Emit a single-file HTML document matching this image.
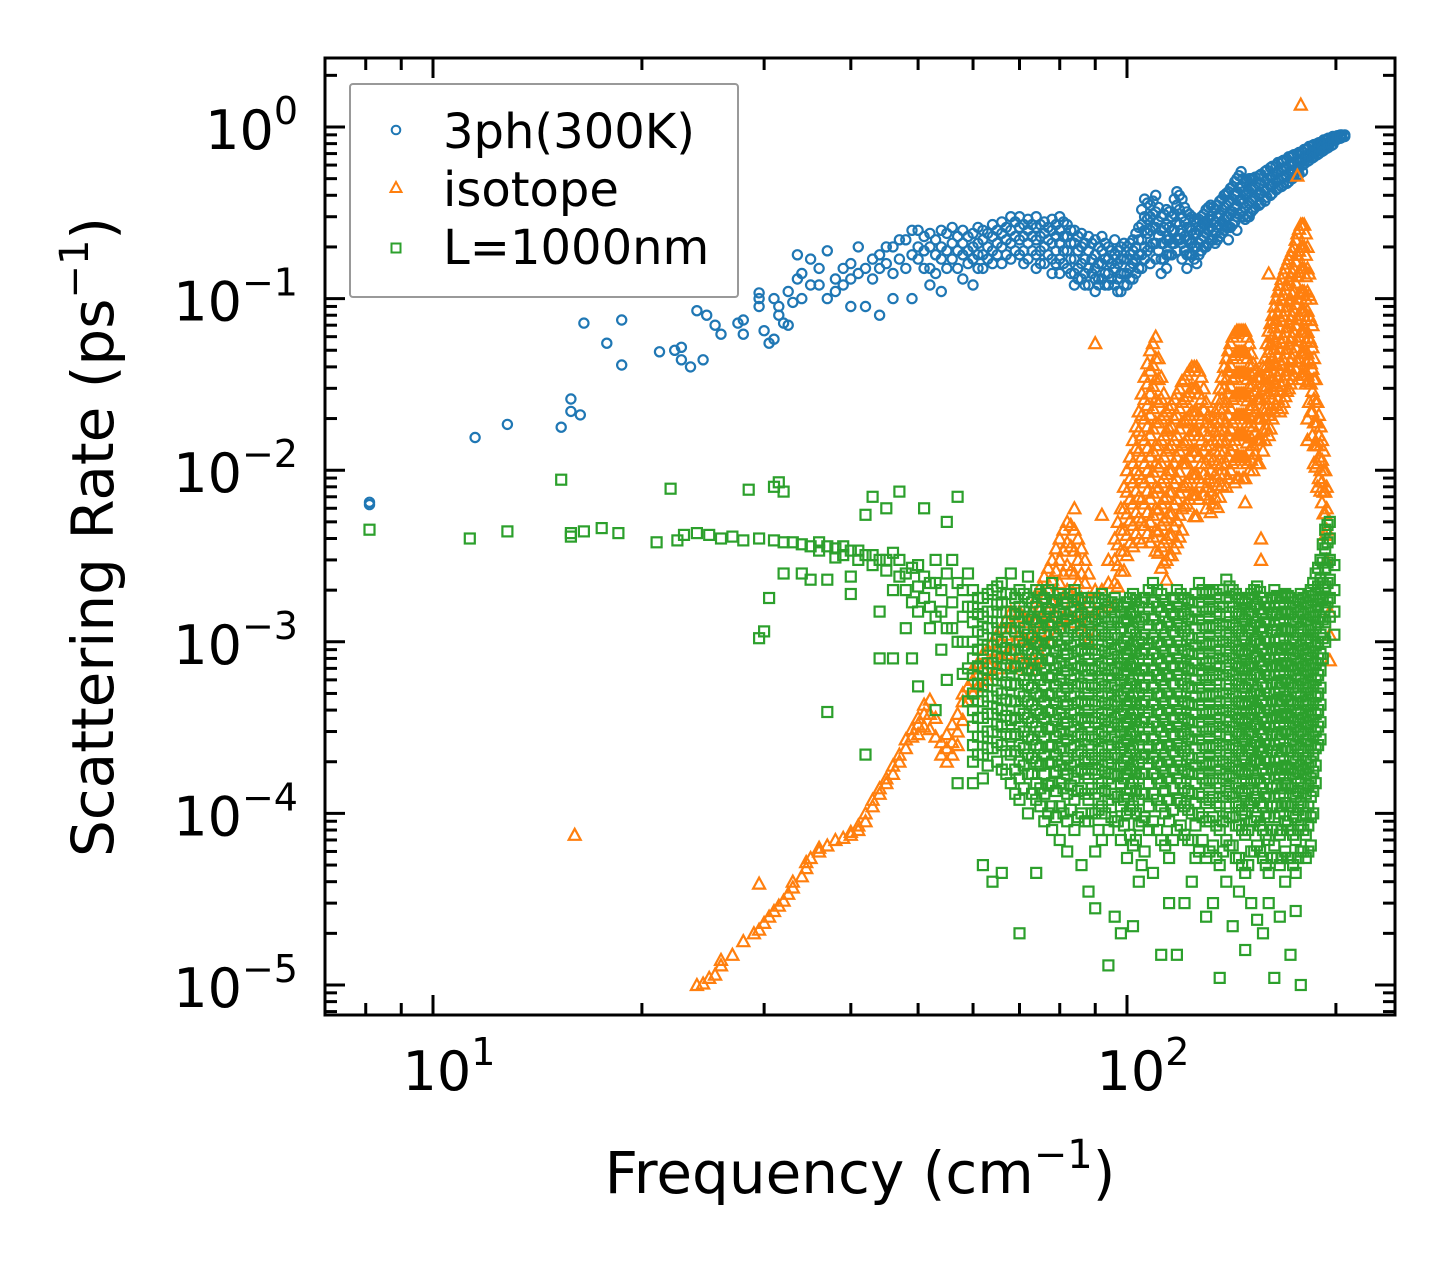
<!DOCTYPE html>
<html><head><meta charset="utf-8"><style>
html,body{margin:0;padding:0;background:#fff;}
svg{display:block;font-family:"DejaVu Sans","Liberation Sans",sans-serif;}
</style></head><body>
<svg id="chart" width="1455" height="1265" viewBox="0 0 1455 1265" xmlns="http://www.w3.org/2000/svg">
<rect width="1455" height="1265" fill="#fff"/>
<g id="marks"></g>
<g id="axes"></g>
<text x="860" y="1193" font-size="58" text-anchor="middle">Frequency (cm<tspan font-size="40" dy="-25">−1</tspan><tspan dy="25">)</tspan></text>
<text transform="translate(113,537) rotate(-90)" font-size="58" text-anchor="middle">Scattering Rate (ps<tspan font-size="40" dy="-25">−1</tspan><tspan dy="25">)</tspan></text>
<g>
<rect x="350" y="84" width="388" height="213" rx="3" fill="#fff" fill-opacity="0.8" stroke="#999" stroke-width="2"/>
<circle cx="396" cy="130" r="4.3" fill="none" stroke="#1f77b4" stroke-width="2"/>
<text x="443" y="148" font-size="48">3ph(300K)</text>
<path d="M396,182 L401.5,192 L390.5,192 Z" fill="none" stroke="#ff7f0e" stroke-width="2"/>
<text x="443" y="206" font-size="48">isotope</text>
<rect x="391.5" y="243.5" width="9" height="9" fill="none" stroke="#2ca02c" stroke-width="2"/>
<text x="443" y="264" font-size="48">L=1000nm</text>
</g>
</svg>
<script>
// Data rows: [frequency (cm^-1), rate1, rate2, ...] (rates in ps^-1)
const blueRows = [
[8.1,6.5e-3,6.3e-3],[11.5,.0155],[12.8,.0185],[15.3,.0178],[15.8,.022,.026],[16.3,.021],[16.5,.072],[17.8,.055],[18.7,.075,.041],
[21.2,.049],[22.3,.05],[22.8,.052,.044],[23.5,.04],[24,.085],[24.5,.044],[24.8,.08],[25.5,.07],[26,.062],[27.5,.072],[28,.075,.062],
[29.5,.1,.108,.09],[30,.065],[30.5,.055],[31,.058,.1],[31.5,.08,.09],[32,.072],[32.5,.07,.11],[33,.095],[33.5,.18,.13],[34,.14,.1],
[35,.17,.12],[36,.12,.15],[37,.19,.1],[38,.13,.11],[39,.15,.12],[40,.16,.13,.09],[41,.2,.14],[42,.09,.15],[43,.17,.13],[44,.18,.15,.08],
[45,.2,.16],[46,.2,.14,.1],[47,.22,.17],[48,.22,.15],[49,.25,.18,.1],[50,.25,.2,.17],[51,.23,.19,.15],[52,.24,.2,.15,.12],[53,.22,.18,.14],[54,.25,.2,.17,.11],
[55,.24,.19,.15],[56,.26,.21,.17],[57,.23,.19,.15],[58,.25,.21,.18,.13],[59,.23,.19,.16],[60,.24,.2,.17,.12],[61,.26,.21,.18,.15],[62,.25,.22,.18,.15],[63,.24,.2,.17],[64,.27,.23,.19,.16],
[65,.25,.21,.18],[66,.28,.24,.2,.16],[67,.26,.22,.18],[68,.3,.25,.21,.17],[69,.28,.23,.19],[70,.3,.26,.22,.18],[71,.27,.23,.19,.16],[72,.29,.25,.21,.17],[73,.27,.23,.19],[74,.3,.26,.22,.18,.15],
[75,.27,.23,.19,.16],[76,.28,.24,.2,.16],[77,.26,.22,.18],[78,.29,.25,.21,.17,.14],[79,.27,.23,.19,.16],
[80,.3,.25,.21,.17,.14],[81,.28,.23,.19,.16],[82,.27,.23,.19,.15],[83,.25,.21,.17,.14],[84,.25,.21,.17,.14,.12],[85,.23,.19,.15,.13],[86,.24,.2,.16,.13],[87,.21,.17,.14,.12],[88,.23,.19,.15,.12],[89,.21,.17,.14],[90,.22,.18,.15,.13,.11],
[91,.2,.16,.13,.12],[92,.23,.19,.16,.13],[93,.21,.17,.14,.12],[94,.2,.17,.14,.12],[95,.19,.16,.13],[96,.22,.18,.15,.12],[97,.19,.16,.13,.11],[98,.2,.17,.14,.11],[99,.21,.17,.14,.12],[100,.2,.17,.14,.12],[101,.21,.18,.15,.13],[102,.22,.19,.16,.13],
[103,.24,.2,.17,.14],[104,.26,.22,.18,.15],[105,.33,.27,.22,.18,.15],[106,.38,.3,.25,.2,.17],[107,.36,.29,.24,.19],[108,.35,.3,.25,.2,.16],[109,.37,.31,.26,.21],[110,.4,.32,.26,.21,.17],[111,.34,.28,.23,.19],[112,.3,.25,.21,.17,.14],
[113,.31,.26,.21,.17],[114,.33,.27,.22,.18,.15],[115,.32,.26,.22,.18],[116,.3,.25,.21,.18],[117,.38,.31,.25,.21],[118,.42,.35,.28,.22,.19],[119,.4,.33,.27,.22],[120,.38,.3,.25,.21,.17],[121,.34,.28,.23,.19],[122,.32,.26,.22,.18,.15],
[123,.31,.26,.22,.18],[124,.3,.25,.21,.18],[125,.29,.24,.2,.17],[126,.28,.24,.2,.16],[127,.29,.25,.21,.18],[128,.3,.26,.22,.19],[129,.31,.27,.23,.2],[130,.33,.28,.24,.2],[131,.34,.29,.25,.21],[132,.35,.3,.26,.22],[133,.34,.29,.25,.22],[134,.33,.28,.24,.21],
[135,.35,.3,.26,.22],[136,.37,.31,.27,.23],[137,.38,.33,.28,.24],[138,.4,.34,.29,.25],[139,.41,.35,.3,.26],[140,.42,.36,.3,.26,.22],[141,.44,.37,.31,.26],[142,.45,.38,.32,.27],[143,.48,.4,.34,.28],[144,.5,.42,.35,.3,.25],[145,.52,.44,.37,.31],[146,.55,.45,.38,.32],
[147,.5,.42,.36,.3],[148,.48,.4,.34,.29],[149,.49,.41,.35,.3],[150,.5,.42,.36,.3],[151,.5,.43,.37,.32],[152,.5,.44,.38,.33],[153,.51,.45,.39,.34],[155,.52,.46,.4,.35],[156,.53,.47,.41,.36],[158,.55,.48,.42,.37],[159,.56,.5,.44,.39],[161,.58,.51,.45,.4],
[162,.59,.52,.46,.41],[164,.6,.54,.48,.43],[165,.62,.55,.49,.44],[167,.63,.56,.5,.45],[168,.64,.57,.51,.46],[170,.65,.58,.52,.47],[171,.67,.6,.54,.48],[173,.68,.61,.55,.5],[174,.69,.62,.56,.51],[176,.7,.63,.57,.52],[177,.71,.64,.58,.53],[179,.72,.65,.6,.55],
[180,.74,.67,.61],[182,.75,.68,.63],[183,.77,.7,.64],[185,.78,.71,.66],[186,.79,.72,.67],[188,.8,.74,.69],[189,.81,.75,.7],[191,.82,.77,.72],[192,.84,.78,.73],[194,.85,.8,.75],[195,.86,.81,.76],[197,.87,.82,.78],[198,.88,.83,.79],[200,.88,.84],[201,.89,.85],[203,.9,.86],[204,.9,.87],[206,.9,.88]
];
const orangeRows = [
[16,7.5e-5],[24,1e-5],[24.5,1.02e-5],[25,1.1e-5],[25.5,1.15e-5],[26,1.3e-5,1.4e-5],[27,1.5e-5],[28,1.8e-5],[29,2e-5],[29.5,2.1e-5,3.9e-5],
[30,2.3e-5],[30.5,2.5e-5],[31,2.7e-5],[31.5,2.9e-5],[32,3.1e-5],[32.5,3.4e-5],[33,3.7e-5,4e-5],[34,4.3e-5],[34.5,4.8e-5,5.2e-5],
[35,5.5e-5],[36,6e-5,6.3e-5],[37,6.5e-5],[38,7e-5],[39,7.2e-5],[40,7.5e-5,7.8e-5],[41,8e-5,8.5e-5],[42,9e-5,1e-4],[43,1.1e-4,1.2e-4],
[44,1.3e-4,1.4e-4],[45,1.5e-4,1.6e-4],[46,1.7e-4,1.9e-4],[47,2e-4,2.2e-4],[48,2.4e-4,2.7e-4],[49,2.8e-4,3.1e-4],[50,3.3e-4,3.6e-4,2.9e-4],
[51,3.8e-4,4.3e-4,3.2e-4],[52,4.6e-4,3.8e-4,3.1e-4],[53,3.6e-4,2.8e-4],[54,2.2e-4,2.6e-4],[55,2.4e-4,2.9e-4,2e-4],[56,3.3e-4,2.6e-4,2.2e-4],
[57,3.8e-4,3e-4,2.5e-4],[58,4.5e-4,3.5e-4,5e-4],[59,5.5e-4,4.5e-4],[60,6e-4,5e-4,7e-4],[61,6.5e-4,5.5e-4,7.5e-4],[62,7e-4,5.5e-4,8.5e-4],[63,7.5e-4,6e-4,9e-4],[64,8e-4,6.5e-4,1e-3],
[65,9e-4,7e-4,1.1e-3],[66,1e-3,8e-4,1.2e-3],[67,1.1e-3,8.5e-4,1.35e-3],[68,1.2e-3,9e-4,7e-4,1.5e-3],[69,1.3e-3,1e-3,7.5e-4],[70,1.5e-3,1.1e-3,8e-4],[71,1.4e-3,1.05e-3,7.5e-4],[72,1.3e-3,1e-3,7e-4],[73,1.5e-3,1.1e-3,8e-4],[74,1.8e-3,1.3e-3,1e-3,7.5e-4],
[75,2.1e-3,1.55e-3,1.15e-3,8.5e-4],[76,2.4e-3,1.8e-3,1.3e-3,1e-3],[77,2.7e-3,2e-3,1.5e-3,1.1e-3],[78,3e-3,2.3e-3,1.7e-3,1.3e-3,1e-3],[79,3.5e-3,2.6e-3,1.9e-3,1.4e-3,1.1e-3],[80,4e-3,3e-3,2.2e-3,1.6e-3,1.2e-3],[81,4.5e-3,3.4e-3,2.5e-3,1.8e-3,1.35e-3],[82,5e-3,3.8e-3,2.8e-3,2e-3,1.5e-3],
[83,4.8e-3,3.6e-3,2.6e-3,1.9e-3,1.4e-3],[84,4.5e-3,3.4e-3,2.5e-3,1.8e-3,1.3e-3,6e-3],[85,4e-3,3e-3,2.2e-3,1.5e-3],[86,3.5e-3,2.5e-3,1.8e-3,1.2e-3],[87,3e-3,2.2e-3,1.5e-3,1.1e-3],[88,2.5e-3,1.8e-3,1.3e-3,1e-3],[90,2e-3,1.5e-3,1.1e-3,5.5e-2],
[92,5.5e-3,2e-3,1.5e-3],[94,3e-3,2.2e-3,1.6e-3],[96,4e-3,3e-3,2.2e-3,1.6e-3],[97,5e-3,3.7e-3,2.8e-3,2.1e-3],[98,6e-3,4.5e-3,3.4e-3,2.6e-3],[99,8e-3,6e-3,4.5e-3,3.4e-3,2.6e-3],
[100,1e-2,7.5e-3,5.6e-3,4.2e-3,3.2e-3],[101,1.2e-2,9e-3,6.8e-3,5.1e-3,3.8e-3],[102,1.5e-2,1.1e-2,8.5e-3,6.4e-3,4.8e-3,3.6e-3],[103,1.8e-2,1.35e-2,1e-2,7.6e-3,5.7e-3,4.3e-3],[104,2.2e-2,1.7e-2,1.3e-2,9.5e-3,7e-3,5.3e-3,4e-3],
[105,2.8e-2,2.1e-2,1.6e-2,1.2e-2,9e-3,6.8e-3,5.1e-3,3.8e-3],[106,3.5e-2,2.6e-2,2e-2,1.5e-2,1.1e-2,8.5e-3,6.4e-3,4.8e-3],[107,4.2e-2,3.2e-2,2.4e-2,1.8e-2,1.35e-2,1e-2,7.6e-3,5.7e-3,4.3e-3],[108,5e-2,3.8e-2,2.8e-2,2.1e-2,1.6e-2,1.2e-2,9e-3,6.8e-3,5e-3,3.8e-3],
[109,5.5e-2,4.1e-2,3.1e-2,2.3e-2,1.75e-2,1.3e-2,9.8e-3,7.4e-3,5.5e-3,4.1e-3],[110,6e-2,4.5e-2,3.4e-2,2.6e-2,1.9e-2,1.4e-2,1.1e-2,8e-3,6e-3,4.5e-3,3.4e-3],[111,4.5e-2,3.4e-2,2.5e-2,1.9e-2,1.4e-2,1.05e-2,7.9e-3,5.9e-3,4.4e-3,3.3e-3],[112,3.5e-2,2.6e-2,2e-2,1.5e-2,1.1e-2,8.5e-3,6.4e-3,4.8e-3,3.6e-3,2.7e-3],
[113,2.8e-2,2.1e-2,1.6e-2,1.2e-2,9e-3,6.8e-3,5.1e-3,3.8e-3,2.9e-3],[114,2.2e-2,1.7e-2,1.3e-2,9.5e-3,7e-3,5.3e-3,4e-3,3e-3,2.3e-3],[115,2.3e-2,1.75e-2,1.35e-2,1e-2,7.5e-3,5.6e-3,4.2e-3,3.2e-3],[116,2.4e-2,1.8e-2,1.4e-2,1e-2,7.5e-3,5.6e-3,4.2e-3,3.2e-3],
[117,2.6e-2,2e-2,1.5e-2,1.1e-2,8.4e-3,6.3e-3,4.7e-3,3.5e-3],[118,2.8e-2,2.1e-2,1.6e-2,1.2e-2,9e-3,6.8e-3,5.1e-3,3.8e-3],[119,3e-2,2.3e-2,1.75e-2,1.3e-2,9.8e-3,7.4e-3,5.5e-3,4.1e-3],[120,3.3e-2,2.5e-2,1.9e-2,1.4e-2,1.1e-2,8e-3,6e-3,4.5e-3],
[121,3.4e-2,2.6e-2,1.95e-2,1.45e-2,1.1e-2,8.2e-3,6.2e-3],[122,3.6e-2,2.7e-2,2e-2,1.5e-2,1.1e-2,8.5e-3,6.4e-3],[123,3.8e-2,2.85e-2,2.1e-2,1.6e-2,1.2e-2,9e-3,6.8e-3],[124,4e-2,3e-2,2.2e-2,1.7e-2,1.3e-2,9.5e-3,7.2e-3],
[125,4e-2,3e-2,2.2e-2,1.7e-2,1.3e-2,9.5e-3,7.2e-3,5.4e-3],[126,4e-2,3e-2,2.2e-2,1.7e-2,1.3e-2,9.5e-3,7.2e-3,5.4e-3],[127,3.8e-2,2.8e-2,2.1e-2,1.6e-2,1.2e-2,9e-3,6.8e-3],[128,3.5e-2,2.6e-2,2e-2,1.5e-2,1.1e-2,8.5e-3],
[129,3e-2,2.25e-2,1.7e-2,1.3e-2,9.5e-3,7.2e-3],[130,2.5e-2,1.9e-2,1.4e-2,1.1e-2,8e-3,6e-3],[131,2.1e-2,1.6e-2,1.2e-2,9e-3,6.8e-3],[132,1.8e-2,1.4e-2,1e-2,7.6e-3,5.7e-3],[133,2e-2,1.5e-2,1.15e-2,8.6e-3,6.4e-3],[134,2.2e-2,1.7e-2,1.3e-2,9.5e-3,7e-3],
[135,2.6e-2,2e-2,1.5e-2,1.1e-2,8.2e-3,6.1e-3],[136,3e-2,2.3e-2,1.7e-2,1.3e-2,9.5e-3,7e-3],[137,3.5e-2,2.6e-2,2e-2,1.5e-2,1.1e-2,8.2e-3],[138,4e-2,3e-2,2.3e-2,1.7e-2,1.3e-2,9.5e-3],[139,4.5e-2,3.4e-2,2.5e-2,1.9e-2,1.45e-2,1.1e-2,8e-3],[140,5e-2,3.8e-2,2.8e-2,2.1e-2,1.6e-2,1.2e-2,9e-3],
[141,5.5e-2,4.1e-2,3.1e-2,2.3e-2,1.75e-2,1.3e-2,1e-2],[142,6e-2,4.5e-2,3.4e-2,2.6e-2,1.9e-2,1.4e-2,1.1e-2],[143,6.3e-2,4.7e-2,3.5e-2,2.7e-2,2e-2,1.5e-2,1.15e-2,8.5e-3],[144,6.5e-2,4.9e-2,3.7e-2,2.8e-2,2.1e-2,1.6e-2,1.2e-2,9e-3],
[145,6.5e-2,4.9e-2,3.7e-2,2.8e-2,2.1e-2,1.6e-2,1.2e-2,9e-3],[146,6.5e-2,4.9e-2,3.7e-2,2.8e-2,2.1e-2,1.6e-2,1.2e-2],[147,6.5e-2,4.9e-2,3.7e-2,2.8e-2,2.1e-2,1.6e-2,1.2e-2,9e-3],[148,6.5e-2,4.9e-2,3.7e-2,2.8e-2,2.1e-2,1.6e-2,1.2e-2,9e-3,6.5e-3],
[149,6e-2,4.5e-2,3.4e-2,2.55e-2,1.9e-2,1.45e-2,1.1e-2],[150,5.5e-2,4.1e-2,3.1e-2,2.3e-2,1.8e-2,1.3e-2,1e-2],[151,4.8e-2,3.6e-2,2.7e-2,2e-2,1.55e-2,1.15e-2],[152,4.2e-2,3.2e-2,2.4e-2,1.8e-2,1.4e-2,1e-2],[153,3.8e-2,2.9e-2,2.2e-2,1.65e-2,1.25e-2],[154,3.5e-2,2.6e-2,2e-2,1.5e-2,1.1e-2],
[155,3.5e-2,2.6e-2,2e-2,1.5e-2,1.1e-2],[156,3.5e-2,2.6e-2,2e-2,1.5e-2,4e-3,3e-3],[157,4e-2,3e-2,2.25e-2,1.7e-2,1.3e-2],[158,4.5e-2,3.4e-2,2.6e-2,2e-2,1.5e-2],[159,5.5e-2,4.1e-2,3.1e-2,2.3e-2,1.75e-2],[160,6.5e-2,4.9e-2,3.7e-2,2.8e-2,2.1e-2,1.6e-2,0.14],
[161,7.2e-2,5.4e-2,4.1e-2,3.1e-2,2.3e-2,1.75e-2],[162,8e-2,6e-2,4.5e-2,3.4e-2,2.6e-2,2e-2],[163,9e-2,6.8e-2,5.1e-2,3.8e-2,2.9e-2,2.2e-2],[164,0.1,7.5e-2,5.6e-2,4.2e-2,3.2e-2,2.4e-2],[165,0.11,8.2e-2,6.2e-2,4.6e-2,3.5e-2,2.6e-2],[166,0.12,9e-2,6.8e-2,5.1e-2,3.8e-2,2.9e-2,2.2e-2],
[167,0.13,9.8e-2,7.4e-2,5.5e-2,4.1e-2,3.1e-2,2.3e-2],[168,0.14,0.105,7.9e-2,5.9e-2,4.4e-2,3.3e-2,2.5e-2],[169,0.15,0.113,8.5e-2,6.4e-2,4.8e-2,3.6e-2,2.7e-2],[170,0.16,0.12,9e-2,6.8e-2,5.1e-2,3.8e-2,2.9e-2],
[171,0.17,0.128,9.6e-2,7.2e-2,5.4e-2,4e-2,3e-2],[172,0.18,0.135,0.1,7.6e-2,5.7e-2,4.3e-2,3.2e-2],[173,0.19,0.143,0.107,8e-2,6e-2,4.5e-2,3.4e-2],[174,0.2,0.15,0.11,8.5e-2,6.4e-2,4.8e-2,3.6e-2],
[175,0.22,0.165,0.124,9.3e-2,7e-2,5.2e-2,3.9e-2],[176,0.24,0.18,0.135,0.1,7.6e-2,5.7e-2,4.3e-2,0.52],[177,0.255,0.19,0.143,0.107,8e-2,6e-2,4.5e-2,3.4e-2],
[178,0.27,0.2,0.15,0.11,8.5e-2,6.4e-2,4.8e-2,3.6e-2,1.35],[179,0.27,0.2,0.15,0.11,8.5e-2,6.4e-2,4.8e-2,3.6e-2],[180,0.27,0.2,0.15,0.11,8.5e-2,6.4e-2,4.8e-2,3.6e-2],[181,0.24,0.18,0.135,0.1,7.6e-2,5.7e-2,4.3e-2,3.2e-2],
[182,0.2,0.15,0.11,8.5e-2,6.4e-2,4.8e-2,3.6e-2,2e-2,1.5e-2],[183,0.14,0.105,7.9e-2,5.9e-2,4.4e-2,3.3e-2,2.5e-2],[184,0.1,7.5e-2,5.6e-2,4.2e-2,3.2e-2,2.2e-2],[185,7e-2,5.2e-2,3.9e-2,2.9e-2,2.2e-2,1.6e-2],
[186,4.5e-2,3.4e-2,2.6e-2,1.9e-2,1.4e-2,1.1e-2],[187,3.4e-2,2.5e-2,1.9e-2,1.4e-2,1.05e-2],[188,2.5e-2,1.9e-2,1.4e-2,1.1e-2,8e-3],[189,2.1e-2,1.6e-2,1.2e-2,9e-3],[190,1.8e-2,1.4e-2,1e-2,7.6e-3],
[191,1.5e-2,1.15e-2,8.6e-3,6.5e-3],[192,1.3e-2,1e-2,7.5e-3,5.6e-3],[193,1e-2,7.5e-3,5.6e-3,4.2e-3],[194,8e-3,6e-3,4.5e-3,3e-3],[196,1.5e-3,1.1e-3,7.8e-4]
];
const greenRows = [
[8.1,4.5e-3],[11.3,4e-3],[12.8,4.4e-3],[15.3,8.8e-3],[15.8,4.3e-3,4.1e-3],[16.5,4.4e-3],[17.5,4.6e-3],[18.5,4.3e-3],
[21,3.8e-3],[22,7.8e-3],[22.5,3.9e-3],[23,4.2e-3],[24,4.3e-3],[25,4.2e-3],[26,4e-3],[27,4.1e-3],[28,3.9e-3],[28.5,7.7e-3],
[29.5,4e-3,1.05e-3],[30,1.15e-3],[30.5,1.8e-3],[31,8e-3,3.9e-3],[31.5,8.5e-3],[32,7.5e-3,2.5e-3,3.8e-3],[33,3.8e-3],[34,2.5e-3,3.7e-3],
[35,3.6e-3,2.3e-3],[36,3.8e-3,3.4e-3],[37,2.3e-3,3.9e-4,3.6e-3],[38,3.5e-3,3.1e-3],[39,3.2e-3,3.6e-3],[40,2.4e-3,1.9e-3,3.4e-3],
[41,3.4e-3,3e-3],[42,5.5e-3,2.2e-4,3.2e-3],[43,7e-3,3.2e-3,2.8e-3],[44,1.5e-3,8e-4,3e-3],[45,3e-3,6e-3,2.6e-3],[46,8e-4,2e-3,3.3e-3],
[47,7.5e-3,3e-3,2.4e-3],[48,1.2e-3,2.5e-3,2e-3],[49,1.7e-3,8e-4,2.7e-3],[50,2.8e-3,5.5e-4,2.1e-3,1.5e-3],[51,6e-3,1.8e-3,2.4e-3],
[52,1.2e-3,2.2e-3,1.6e-3],[53,2.2e-3,4e-4,1.4e-3,3e-3],[54,1.5e-3,9e-4,2e-3],[55,2.5e-3,6e-4,1.2e-3,5e-3],[56,3e-3,1.2e-3,1.7e-3],
[57,1.5e-4,7e-3,2.2e-3,1e-3],[58,2e-3,1e-3,1.4e-3,6.5e-4],[59,2.5e-3,1.6e-3,7e-4,4.5e-4],
[60,2e-3,1.6e-3,1.3e-3,1e-3,8e-4,6.4e-4,5e-4,4e-4,3.2e-4,2.5e-4,2e-4,1.5e-4],
[61,1.8e-3,1.45e-3,1.15e-3,9e-4,7.2e-4,5.7e-4,4.5e-4,3.6e-4,2.8e-4,2.2e-4],
[62,1.8e-3,1.4e-3,1.1e-3,9e-4,7e-4,5.6e-4,4.5e-4,3.6e-4,2.8e-4,2.2e-4,1.6e-4,5e-5],
[63,1.9e-3,1.5e-3,1.2e-3,9.5e-4,7.5e-4,6e-4,4.8e-4,3.8e-4,3e-4,2.4e-4,1.9e-4],
[64,2e-3,1.5e-3,1.2e-3,9.5e-4,7.5e-4,6e-4,4.8e-4,3.8e-4,3e-4,2.4e-4,4e-5],
[65,2.1e-3,1.65e-3,1.3e-3,1.03e-3,8.2e-4,6.5e-4,5.2e-4,4.1e-4,3.3e-4,2.6e-4,2e-4],
[66,2.2e-3,1.7e-3,1.3e-3,1e-3,8e-4,6.4e-4,5e-4,4e-4,3.2e-4,2.5e-4,1.8e-4,4.5e-5],
[67,1.9e-3,1.5e-3,1.2e-3,9.2e-4,7.3e-4,5.8e-4,4.6e-4,3.7e-4,2.9e-4,2.3e-4,1.7e-4],
[68,2.5e-3,1.9e-3,1.5e-3,1.2e-3,9e-4,7e-4,5.6e-4,4.5e-4,3.5e-4,2.8e-4,2.2e-4,1.5e-4],
[69,1.8e-3,1.45e-3,1.15e-3,9e-4,7.2e-4,5.7e-4,4.5e-4,3.6e-4,2.9e-4,2.3e-4,1.8e-4,1.3e-4],
[70,2e-3,1.6e-3,1.3e-3,1e-3,8e-4,6.4e-4,5e-4,4e-4,3.2e-4,2.5e-4,2e-4,1.6e-4,1.2e-4,2e-5],
[71,1.9e-3,1.5e-3,1.2e-3,9.5e-4,7.5e-4,6e-4,4.8e-4,3.8e-4,3e-4,2.4e-4,1.9e-4,1.4e-4],
[72,2.4e-3,1.8e-3,1.4e-3,1.1e-3,9e-4,7e-4,5.6e-4,4.5e-4,3.6e-4,2.8e-4,2.2e-4,1.7e-4,1e-4],
[73,1.7e-3,1.35e-3,1.05e-3,8.5e-4,6.8e-4,5.4e-4,4.3e-4,3.4e-4,2.7e-4,2.1e-4,1.7e-4,1.3e-4],
[74,2e-3,1.6e-3,1.3e-3,1e-3,8e-4,6.4e-4,5e-4,4e-4,3.2e-4,2.5e-4,2e-4,1.5e-4,1.2e-4,4.5e-5],
[75,1.9e-3,1.5e-3,1.2e-3,9.5e-4,7.5e-4,6e-4,4.8e-4,3.8e-4,3e-4,2.4e-4,1.9e-4,1.4e-4,1.1e-4],
[76,1.8e-3,1.4e-3,1.1e-3,9e-4,7e-4,5.6e-4,4.5e-4,3.6e-4,2.8e-4,2.2e-4,1.7e-4,1.3e-4,9e-5],
[77,2e-3,1.55e-3,1.25e-3,9.8e-4,7.8e-4,6.2e-4,4.9e-4,3.9e-4,3.1e-4,2.45e-4,1.95e-4,1.45e-4,1e-4],
[78,2.2e-3,1.7e-3,1.3e-3,1e-3,8e-4,6.4e-4,5e-4,4e-4,3.2e-4,2.5e-4,2e-4,1.5e-4,1.1e-4,8e-5],
[79,1.75e-3,1.4e-3,1.1e-3,8.8e-4,7e-4,5.5e-4,4.4e-4,3.5e-4,2.8e-4,2.2e-4,1.75e-4,1.35e-4,9.5e-5],
[80,1.9e-3,1.5e-3,1.2e-3,9.5e-4,7.5e-4,6e-4,4.8e-4,3.8e-4,3e-4,2.4e-4,1.9e-4,1.5e-4,1.1e-4,7e-5],
[81,1.8e-3,1.45e-3,1.15e-3,9e-4,7.2e-4,5.7e-4,4.5e-4,3.6e-4,2.9e-4,2.3e-4,1.8e-4,1.4e-4,1e-4],
[82,1.7e-3,1.35e-3,1.05e-3,8.5e-4,6.8e-4,5.4e-4,4.3e-4,3.4e-4,2.7e-4,2.1e-4,1.7e-4,1.3e-4,9e-5,6e-5],
[83,1.9e-3,1.5e-3,1.2e-3,9.5e-4,7.5e-4,6e-4,4.8e-4,3.8e-4,3e-4,2.4e-4,1.9e-4,1.45e-4,1.05e-4],
[84,2e-3,1.6e-3,1.25e-3,1e-3,8e-4,6.4e-4,5e-4,4e-4,3.2e-4,2.5e-4,2e-4,1.6e-4,1.2e-4,8e-5],
[85,1.75e-3,1.4e-3,1.1e-3,8.8e-4,7e-4,5.5e-4,4.4e-4,3.5e-4,2.8e-4,2.2e-4,1.75e-4,1.35e-4,9.5e-5],
[86,1.8e-3,1.45e-3,1.15e-3,9e-4,7.2e-4,5.7e-4,4.5e-4,3.6e-4,2.9e-4,2.3e-4,1.8e-4,1.4e-4,1e-4,5e-5],
[87,1.7e-3,1.35e-3,1.05e-3,8.5e-4,6.8e-4,5.4e-4,4.3e-4,3.4e-4,2.7e-4,2.1e-4,1.7e-4,1.3e-4,9e-5],
[88,1.6e-3,1.3e-3,1e-3,8e-4,6.4e-4,5e-4,4e-4,3.2e-4,2.5e-4,2e-4,1.6e-4,1.2e-4,9e-5,3.5e-5],
[89,1.8e-3,1.4e-3,1.1e-3,9e-4,7e-4,5.6e-4,4.5e-4,3.6e-4,2.8e-4,2.2e-4,1.8e-4,1.4e-4,1e-4],
[90,1.7e-3,1.35e-3,1.1e-3,8.5e-4,6.8e-4,5.4e-4,4.3e-4,3.4e-4,2.7e-4,2.1e-4,1.7e-4,1.3e-4,1e-4,6e-5,2.8e-5],
[91,1.8e-3,1.45e-3,1.15e-3,9e-4,7.2e-4,5.7e-4,4.5e-4,3.6e-4,2.9e-4,2.3e-4,1.8e-4,1.4e-4,1.05e-4,8e-5],
[92,1.9e-3,1.5e-3,1.2e-3,9.5e-4,7.5e-4,6e-4,4.8e-4,3.8e-4,3e-4,2.4e-4,1.9e-4,1.5e-4,1.1e-4,7e-5],
[93,1.75e-3,1.4e-3,1.1e-3,8.8e-4,7e-4,5.5e-4,4.4e-4,3.5e-4,2.8e-4,2.2e-4,1.75e-4,1.35e-4,1e-4],
[94,1.6e-3,1.3e-3,1e-3,8e-4,6.4e-4,5e-4,4e-4,3.2e-4,2.5e-4,2e-4,1.6e-4,1.2e-4,8e-5,1.3e-5],
[95,1.7e-3,1.35e-3,1.05e-3,8.5e-4,6.8e-4,5.4e-4,4.3e-4,3.4e-4,2.7e-4,2.1e-4,1.7e-4,1.3e-4,9.5e-5],
[96,1.8e-3,1.4e-3,1.1e-3,9e-4,7e-4,5.6e-4,4.5e-4,3.6e-4,2.8e-4,2.2e-4,1.7e-4,1.3e-4,9e-5,2.5e-5],
[97,1.65e-3,1.3e-3,1.05e-3,8.2e-4,6.6e-4,5.2e-4,4.2e-4,3.3e-4,2.6e-4,2.1e-4,1.65e-4,1.25e-4,9e-5],
[98,1.5e-3,1.2e-3,9.5e-4,7.5e-4,6e-4,4.8e-4,3.8e-4,3e-4,2.4e-4,1.9e-4,1.5e-4,1.1e-4,7e-5,2e-5],
[99,1.6e-3,1.3e-3,1e-3,8e-4,6.4e-4,5e-4,4e-4,3.2e-4,2.5e-4,2e-4,1.6e-4,1.2e-4,8.5e-5],
[100,1.7e-3,1.35e-3,1.05e-3,8.5e-4,6.8e-4,5.4e-4,4.3e-4,3.4e-4,2.7e-4,2.1e-4,1.7e-4,1.3e-4,1e-4,5.5e-5],
[101,1.8e-3,1.45e-3,1.15e-3,9e-4,7.2e-4,5.7e-4,4.5e-4,3.6e-4,2.9e-4,2.3e-4,1.8e-4,1.4e-4,1.05e-4,7.5e-5],
[102,1.9e-3,1.5e-3,1.2e-3,9.5e-4,7.5e-4,6e-4,4.8e-4,3.8e-4,3e-4,2.4e-4,1.9e-4,1.5e-4,1.1e-4,6.5e-5,2.2e-5],
[103,1.75e-3,1.4e-3,1.1e-3,8.8e-4,7e-4,5.5e-4,4.4e-4,3.5e-4,2.8e-4,2.2e-4,1.75e-4,1.35e-4,1e-4,7e-5],
[104,1.6e-3,1.3e-3,1e-3,8e-4,6.4e-4,5e-4,4e-4,3.2e-4,2.5e-4,2e-4,1.6e-4,1.2e-4,8.5e-5,4e-5],
[105,1.7e-3,1.35e-3,1.05e-3,8.5e-4,6.8e-4,5.4e-4,4.3e-4,3.4e-4,2.7e-4,2.1e-4,1.7e-4,1.3e-4,9e-5,5e-5],
[106,1.8e-3,1.4e-3,1.1e-3,9e-4,7e-4,5.6e-4,4.5e-4,3.6e-4,2.8e-4,2.2e-4,1.7e-4,1.3e-4,9.5e-5,6e-5],
[107.5,2e-3,1.55e-3,1.25e-3,9.8e-4,7.8e-4,6.2e-4,4.9e-4,3.9e-4,3.1e-4,2.45e-4,1.95e-4,1.5e-4,1.1e-4,8e-5],
[109,2.2e-3,1.7e-3,1.35e-3,1.05e-3,8.5e-4,6.8e-4,5.4e-4,4.3e-4,3.4e-4,2.7e-4,2.1e-4,1.7e-4,1.3e-4,9e-5,4.5e-5],
[110.5,2e-3,1.6e-3,1.25e-3,1e-3,8e-4,6.4e-4,5e-4,4e-4,3.2e-4,2.5e-4,2e-4,1.6e-4,1.2e-4,8e-5],
[112,1.9e-3,1.5e-3,1.2e-3,9.5e-4,7.5e-4,6e-4,4.8e-4,3.8e-4,3e-4,2.4e-4,1.9e-4,1.5e-4,1.1e-4,7e-5,1.5e-5],
[113.5,1.75e-3,1.4e-3,1.1e-3,8.8e-4,7e-4,5.5e-4,4.4e-4,3.5e-4,2.8e-4,2.2e-4,1.75e-4,1.35e-4,1e-4,6.5e-5],
[115,1.6e-3,1.3e-3,1e-3,8e-4,6.4e-4,5e-4,4e-4,3.2e-4,2.5e-4,2e-4,1.6e-4,1.2e-4,9e-5,5.5e-5,3e-5],
[116.5,1.8e-3,1.45e-3,1.15e-3,9e-4,7.2e-4,5.7e-4,4.5e-4,3.6e-4,2.9e-4,2.3e-4,1.8e-4,1.4e-4,1.05e-4,7e-5],
[118,2e-3,1.6e-3,1.25e-3,1e-3,8e-4,6.4e-4,5e-4,4e-4,3.2e-4,2.5e-4,2e-4,1.6e-4,1.2e-4,8e-5,1.5e-5],
[119.5,1.9e-3,1.5e-3,1.2e-3,9.5e-4,7.5e-4,6e-4,4.8e-4,3.8e-4,3e-4,2.4e-4,1.9e-4,1.5e-4,1.15e-4,8.5e-5],
[121,1.8e-3,1.45e-3,1.15e-3,9e-4,7.2e-4,5.7e-4,4.5e-4,3.6e-4,2.9e-4,2.3e-4,1.8e-4,1.4e-4,1.1e-4,7.5e-5,3e-5],
[122.5,1.75e-3,1.4e-3,1.1e-3,8.8e-4,7e-4,5.5e-4,4.4e-4,3.5e-4,2.8e-4,2.2e-4,1.75e-4,1.35e-4,1.05e-4,7e-5],
[124,1.7e-3,1.35e-3,1.05e-3,8.5e-4,6.8e-4,5.4e-4,4.3e-4,3.4e-4,2.7e-4,2.1e-4,1.7e-4,1.3e-4,1e-4,7e-5,4e-5],
[125.5,1.9e-3,1.5e-3,1.2e-3,9.5e-4,7.5e-4,6e-4,4.8e-4,3.8e-4,3e-4,2.4e-4,1.9e-4,1.5e-4,1.15e-4,8.5e-5,5.5e-5],
[127,2.2e-3,1.7e-3,1.35e-3,1.05e-3,8.5e-4,6.8e-4,5.4e-4,4.3e-4,3.4e-4,2.7e-4,2.1e-4,1.7e-4,1.3e-4,1e-4,6e-5],
[128.5,2e-3,1.6e-3,1.25e-3,1e-3,8e-4,6.4e-4,5e-4,4e-4,3.2e-4,2.5e-4,2e-4,1.6e-4,1.25e-4,9.5e-5,7e-5],
[130,1.9e-3,1.5e-3,1.2e-3,9.5e-4,7.5e-4,6e-4,4.8e-4,3.8e-4,3e-4,2.4e-4,1.9e-4,1.5e-4,1.15e-4,9e-5,5.5e-5,2.5e-5],
[131.5,1.95e-3,1.55e-3,1.22e-3,9.7e-4,7.7e-4,6.2e-4,4.9e-4,3.9e-4,3.1e-4,2.45e-4,1.95e-4,1.55e-4,1.2e-4,9e-5,6e-5],
[133,2e-3,1.6e-3,1.25e-3,1e-3,8e-4,6.4e-4,5e-4,4e-4,3.2e-4,2.5e-4,2e-4,1.6e-4,1.25e-4,9.5e-5,6.5e-5,3e-5],
[134.5,1.9e-3,1.5e-3,1.2e-3,9.5e-4,7.5e-4,6e-4,4.8e-4,3.8e-4,3e-4,2.4e-4,1.9e-4,1.5e-4,1.15e-4,8.5e-5,5.5e-5],
[136,1.8e-3,1.45e-3,1.15e-3,9e-4,7.2e-4,5.7e-4,4.5e-4,3.6e-4,2.9e-4,2.3e-4,1.8e-4,1.4e-4,1.1e-4,8e-5,5e-5,1.1e-5],
[137.5,2e-3,1.6e-3,1.25e-3,1e-3,8e-4,6.4e-4,5e-4,4e-4,3.2e-4,2.5e-4,2e-4,1.6e-4,1.25e-4,9e-5,6e-5],
[139,2.3e-3,1.8e-3,1.4e-3,1.1e-3,8.8e-4,7e-4,5.6e-4,4.4e-4,3.5e-4,2.8e-4,2.2e-4,1.7e-4,1.35e-4,1e-4,7e-5,4e-5],
[140.5,2.1e-3,1.7e-3,1.3e-3,1.05e-3,8.4e-4,6.7e-4,5.3e-4,4.2e-4,3.4e-4,2.7e-4,2.1e-4,1.65e-4,1.3e-4,9.5e-5,6.5e-5],
[142,2e-3,1.6e-3,1.25e-3,1e-3,8e-4,6.4e-4,5e-4,4e-4,3.2e-4,2.5e-4,2e-4,1.6e-4,1.25e-4,9.5e-5,6.5e-5,2.2e-5],
[143.5,1.9e-3,1.5e-3,1.2e-3,9.5e-4,7.5e-4,6e-4,4.8e-4,3.8e-4,3e-4,2.4e-4,1.9e-4,1.5e-4,1.15e-4,8.5e-5,5.5e-5],
[145,1.8e-3,1.45e-3,1.15e-3,9e-4,7.2e-4,5.7e-4,4.5e-4,3.6e-4,2.9e-4,2.3e-4,1.8e-4,1.4e-4,1.1e-4,8.5e-5,5.5e-5,3.5e-5],
[146.5,1.75e-3,1.4e-3,1.1e-3,8.8e-4,7e-4,5.5e-4,4.4e-4,3.5e-4,2.8e-4,2.2e-4,1.75e-4,1.35e-4,1.05e-4,8e-5,5e-5],
[148,1.7e-3,1.35e-3,1.05e-3,8.5e-4,6.8e-4,5.4e-4,4.3e-4,3.4e-4,2.7e-4,2.1e-4,1.7e-4,1.3e-4,1e-4,7.5e-5,4.5e-5,1.6e-5],
[149.5,1.8e-3,1.45e-3,1.15e-3,9e-4,7.2e-4,5.7e-4,4.5e-4,3.6e-4,2.9e-4,2.3e-4,1.8e-4,1.4e-4,1.1e-4,8e-5,5e-5],
[151,1.9e-3,1.5e-3,1.2e-3,9.5e-4,7.5e-4,6e-4,4.8e-4,3.8e-4,3e-4,2.4e-4,1.9e-4,1.5e-4,1.15e-4,9e-5,6e-5,3e-5],
[152.5,2e-3,1.6e-3,1.25e-3,1e-3,8e-4,6.4e-4,5e-4,4e-4,3.2e-4,2.5e-4,2e-4,1.55e-4,1.2e-4,9e-5,6e-5],
[154,2.1e-3,1.65e-3,1.3e-3,1.03e-3,8.2e-4,6.5e-4,5.2e-4,4.1e-4,3.3e-4,2.6e-4,2.05e-4,1.6e-4,1.25e-4,9.5e-5,6.5e-5,2.4e-5],
[155.5,1.95e-3,1.55e-3,1.22e-3,9.7e-4,7.7e-4,6.2e-4,4.9e-4,3.9e-4,3.1e-4,2.45e-4,1.95e-4,1.5e-4,1.15e-4,8.5e-5,6e-5],
[157,1.8e-3,1.45e-3,1.15e-3,9e-4,7.2e-4,5.7e-4,4.5e-4,3.6e-4,2.9e-4,2.3e-4,1.8e-4,1.4e-4,1.1e-4,8e-5,5.5e-5,2e-5],
[158.5,1.7e-3,1.35e-3,1.05e-3,8.5e-4,6.8e-4,5.4e-4,4.3e-4,3.4e-4,2.7e-4,2.1e-4,1.7e-4,1.3e-4,1e-4,7.5e-5,5e-5],
[160,1.6e-3,1.3e-3,1e-3,8e-4,6.4e-4,5e-4,4e-4,3.2e-4,2.5e-4,2e-4,1.6e-4,1.25e-4,9.5e-5,7e-5,4.5e-5,3e-5],
[161.5,1.8e-3,1.45e-3,1.15e-3,9e-4,7.2e-4,5.7e-4,4.5e-4,3.6e-4,2.9e-4,2.3e-4,1.8e-4,1.4e-4,1.1e-4,8e-5,5.5e-5],
[163,2e-3,1.6e-3,1.25e-3,1e-3,8e-4,6.4e-4,5e-4,4e-4,3.2e-4,2.5e-4,2e-4,1.6e-4,1.25e-4,9.5e-5,6.5e-5,1.1e-5],
[164.5,1.85e-3,1.48e-3,1.17e-3,9.2e-4,7.3e-4,5.8e-4,4.6e-4,3.7e-4,2.9e-4,2.3e-4,1.85e-4,1.45e-4,1.1e-4,8e-5,5.5e-5],
[166,1.7e-3,1.35e-3,1.05e-3,8.5e-4,6.8e-4,5.4e-4,4.3e-4,3.4e-4,2.7e-4,2.1e-4,1.7e-4,1.3e-4,1e-4,7.5e-5,5e-5,2.5e-5],
[167.5,1.8e-3,1.45e-3,1.15e-3,9e-4,7.2e-4,5.7e-4,4.5e-4,3.6e-4,2.9e-4,2.3e-4,1.8e-4,1.4e-4,1.1e-4,8e-5,5.5e-5],
[169,1.9e-3,1.5e-3,1.2e-3,9.5e-4,7.5e-4,6e-4,4.8e-4,3.8e-4,3e-4,2.4e-4,1.9e-4,1.5e-4,1.15e-4,9e-5,6e-5,4e-5],
[170.5,1.85e-3,1.48e-3,1.17e-3,9.2e-4,7.3e-4,5.8e-4,4.6e-4,3.7e-4,2.9e-4,2.3e-4,1.85e-4,1.45e-4,1.1e-4,8.5e-5,5.5e-5],
[172,1.8e-3,1.45e-3,1.15e-3,9e-4,7.2e-4,5.7e-4,4.5e-4,3.6e-4,2.9e-4,2.3e-4,1.8e-4,1.4e-4,1.1e-4,8e-5,5.5e-5,1.5e-5],
[173.5,1.7e-3,1.35e-3,1.05e-3,8.5e-4,6.8e-4,5.4e-4,4.3e-4,3.4e-4,2.7e-4,2.1e-4,1.7e-4,1.3e-4,1e-4,7.5e-5,5e-5],
[175,1.6e-3,1.3e-3,1e-3,8e-4,6.4e-4,5e-4,4e-4,3.2e-4,2.5e-4,2e-4,1.6e-4,1.25e-4,9.5e-5,7e-5,4.5e-5,2.7e-5],
[176.5,1.75e-3,1.4e-3,1.1e-3,8.8e-4,7e-4,5.5e-4,4.4e-4,3.5e-4,2.8e-4,2.2e-4,1.75e-4,1.35e-4,1.05e-4,8e-5,5.5e-5],
[178,1.9e-3,1.5e-3,1.2e-3,9.5e-4,7.5e-4,6e-4,4.8e-4,3.8e-4,3e-4,2.4e-4,1.9e-4,1.5e-4,1.15e-4,8.5e-5,6e-5,1e-5],
[179.5,1.8e-3,1.45e-3,1.15e-3,9e-4,7.2e-4,5.7e-4,4.5e-4,3.6e-4,2.9e-4,2.3e-4,1.8e-4,1.4e-4,1.1e-4,8e-5,6e-5],
[181,1.7e-3,1.35e-3,1.05e-3,8.5e-4,6.8e-4,5.4e-4,4.3e-4,3.4e-4,2.7e-4,2.1e-4,1.7e-4,1.3e-4,1e-4,7.5e-5,5.5e-5],
[182.5,1.85e-3,1.48e-3,1.17e-3,9.2e-4,7.3e-4,5.8e-4,4.6e-4,3.7e-4,2.9e-4,2.3e-4,1.85e-4,1.45e-4,1.1e-4,8.5e-5,6e-5],
[184,2e-3,1.6e-3,1.25e-3,1e-3,8e-4,6.4e-4,5e-4,4e-4,3.2e-4,2.5e-4,2e-4,1.6e-4,1.25e-4,9.5e-5,6.5e-5],
[185.5,2.2e-3,1.75e-3,1.4e-3,1.1e-3,8.8e-4,7e-4,5.5e-4,4.4e-4,3.5e-4,2.8e-4,2.2e-4,1.75e-4,1.35e-4,1e-4],
[187,2.5e-3,1.9e-3,1.5e-3,1.2e-3,9.5e-4,7.5e-4,6e-4,4.8e-4,3.8e-4,3e-4,2.4e-4,1.9e-4,1.5e-4],
[188.5,2.7e-3,2.1e-3,1.65e-3,1.3e-3,1e-3,8e-4,6.4e-4,5e-4,4e-4,3.2e-4,2.5e-4],
[190,3e-3,2.3e-3,1.8e-3,1.4e-3,1.1e-3,8.5e-4,6.8e-4,5.4e-4,4.3e-4,3.4e-4,2.7e-4],
[191.5,3.7e-3,2.9e-3,2.2e-3,1.75e-3,1.35e-3,1.05e-3,8e-4],
[193,4.5e-3,3.5e-3,2.7e-3,2.1e-3,1.6e-3,1.3e-3,1e-3],[194.5,4.8e-3,3.8e-3,2.9e-3,2.2e-3,1.7e-3],[196,5e-3,4e-3,3e-3,2.3e-3,1.8e-3,1.4e-3],[199,2.8e-3,2e-3,1.5e-3,1.1e-3]
];
const xMajorTicks = [10, 100];
const xTickLabels = ["1", "2"];
const yMajorTicks = [1, 0.1, 0.01, 1e-3, 1e-4, 1e-5];
const yTickLabels = ["0", "−1", "−2", "−3", "−4", "−5"];

const NS = "http://www.w3.org/2000/svg";
const L = 325, R = 1395, T = 58, B = 1015;
function xScale(f){ return 433 + 694 * (Math.log10(f) - 1); }
function yScale(r){ return 127 - 171.6 * Math.log10(r); }
function mk(tag, attrs, parent){ const e = document.createElementNS(NS, tag); for (const k in attrs) e.setAttribute(k, attrs[k]); parent.appendChild(e); return e; }

const marks = document.getElementById('marks');
const gBlue = mk('g', {fill:'none', stroke:'#1f77b4', 'stroke-width':2.2}, marks);


const gOr = mk('g', {fill:'none', stroke:'#ff7f0e', 'stroke-width':2.2}, marks);


const gGr = mk('g', {fill:'none', stroke:'#2ca02c', 'stroke-width':2.2}, marks);



blueRows.forEach(row => { for (let i = 1; i < row.length; i++) {
  const c = mk('circle', {cx:xScale(row[0]).toFixed(1), cy:yScale(row[i]).toFixed(1), r:4.6}, gBlue);
  
  
}});
orangeRows.forEach(row => { for (let i = 1; i < row.length; i++) {
  const x = xScale(row[0]), y = yScale(row[i]);
  const p = mk('path', {d:`M${x.toFixed(1)},${(y-6).toFixed(1)}L${(x+6).toFixed(1)},${(y+5).toFixed(1)}L${(x-6).toFixed(1)},${(y+5).toFixed(1)}Z`}, gOr);
  
  
}});
greenRows.forEach(row => { for (let i = 1; i < row.length; i++) {
  const x = xScale(row[0]), y = yScale(row[i]);
  const s = mk('rect', {x:(x-5).toFixed(1), y:(y-5).toFixed(1), width:10, height:10}, gGr);
  
  
}});

const axes = document.getElementById('axes');
const frame = mk('rect', {x:L, y:T, width:R-L, height:B-T, fill:'none', stroke:'#000', 'stroke-width':3}, axes);


const tg = mk('g', {stroke:'#000', 'stroke-width':3}, axes);


for (let k = 0; k <= 2; k++) for (let m = 1; m <= 9; m++) {
  const f = m * Math.pow(10, k); const x = xScale(f);
  if (x < L + 1 || x > R - 1) continue;
  const len = m === 1 ? 20 : 12;
  mk('line', {x1:x, y1:B, x2:x, y2:B-len}, tg);
  mk('line', {x1:x, y1:T, x2:x, y2:T+len}, tg);
}
for (let k = -6; k <= 0; k++) for (let m = 1; m <= 9; m++) {
  const r = m * Math.pow(10, k); const y = yScale(r);
  if (y < T + 1 || y > B - 1) continue;
  const len = m === 1 ? 20 : 12;
  mk('line', {x1:L, y1:y, x2:L+len, y2:y}, tg);
  mk('line', {x1:R, y1:y, x2:R-len, y2:y}, tg);
}
xMajorTicks.forEach((f, i) => {
  const t = mk('text', {x:xScale(f)+16, y:1090, 'font-size':54, 'text-anchor':'middle'}, axes);
  
  
  t.innerHTML = `10<tspan font-size="38" dy="-25">${xTickLabels[i]}</tspan>`;
});
yMajorTicks.forEach((r, i) => {
  const t = mk('text', {x:298, y:yScale(r)+22, 'font-size':54, 'text-anchor':'end'}, axes);
  
  
  t.innerHTML = `10<tspan font-size="38" dy="-25">${yTickLabels[i]}</tspan>`;
});
</script>
</body></html>
